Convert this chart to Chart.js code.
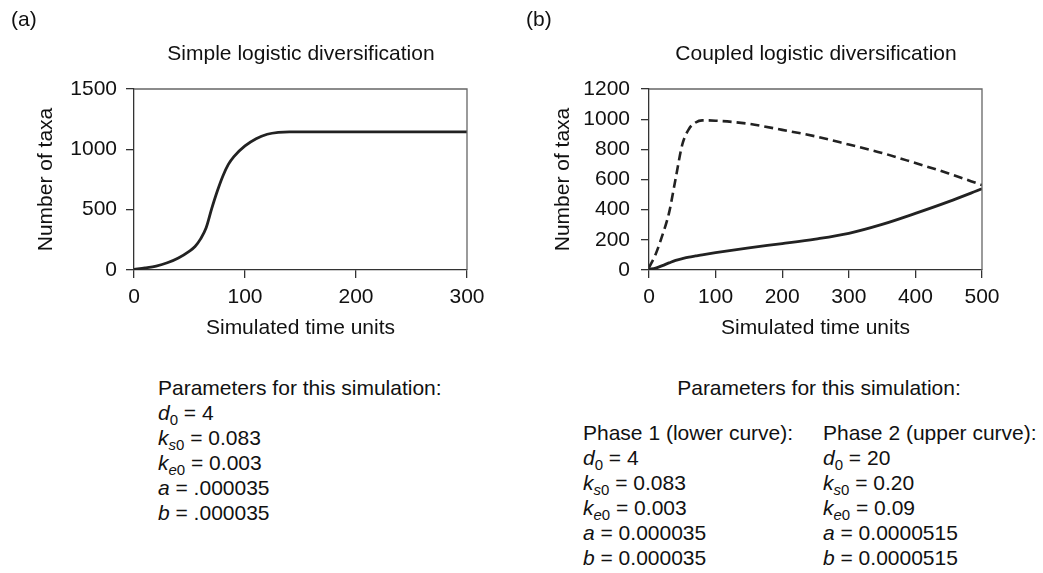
<!DOCTYPE html>
<html>
  <head>
    <title>Logistic diversification simulations</title>
    <script src="https://cdn.jsdelivr.net/npm/chart.js"></script>
    <style>
      body { margin: 0; background: #fff; font-family: "Liberation Sans", Arial, Helvetica, sans-serif; color: #111; }
      #page { position: relative; width: 1043px; height: 573px; overflow: hidden; }
      canvas { position: absolute; top: 0; }
      .txt { position: absolute; font-size: 21px; line-height: 25px; white-space: nowrap; }
      .mid { transform: translateX(-50%); }
      sub { font-size: 15px; vertical-align: -5px; line-height: 0; }
    </style>
  </head>
  <body>
    <div id="page">
      <canvas id="chart-a" width="520" height="350" style="left:0"></canvas>
      <canvas id="chart-b" width="523" height="350" style="left:520px"></canvas>

      <div class="txt" style="left:11px; top:6px">(a)</div>
      <div class="txt" style="left:526px; top:6px">(b)</div>
      <div class="txt mid" style="left:301px; top:40px">Simple logistic diversification</div>
      <div class="txt mid" style="left:816px; top:40px">Coupled logistic diversification</div>

      <div class="txt" style="left:158px; top:375px">
        Parameters for this simulation:<br>
        <i>d</i><sub>0</sub> = 4<br>
        <i>k</i><sub><i>s</i>0</sub> = 0.083<br>
        <i>k</i><sub><i>e</i>0</sub> = 0.003<br>
        <i>a</i> = .000035<br>
        <i>b</i> = .000035
      </div>

      <div class="txt mid" style="left:819px; top:375px">Parameters for this simulation:</div>
      <div class="txt" style="left:583px; top:420px">
        Phase 1 (lower curve):<br>
        <i>d</i><sub>0</sub> = 4<br>
        <i>k</i><sub><i>s</i>0</sub> = 0.083<br>
        <i>k</i><sub><i>e</i>0</sub> = 0.003<br>
        <i>a</i> = 0.000035<br>
        <i>b</i> = 0.000035
      </div>
      <div class="txt" style="left:823px; top:420px">
        Phase 2 (upper curve):<br>
        <i>d</i><sub>0</sub> = 20<br>
        <i>k</i><sub><i>s</i>0</sub> = 0.20<br>
        <i>k</i><sub><i>e</i>0</sub> = 0.09<br>
        <i>a</i> = 0.0000515<br>
        <i>b</i> = 0.0000515
      </div>
    </div>
    <script>
      // (a) simple logistic run
      const timeA = [0, 10, 20, 30, 40, 50, 55, 60, 65, 70, 75, 80, 85, 90, 100, 110, 120, 130, 140, 150, 200, 250, 300];
      const taxaA = [4, 17, 33, 60, 100, 157, 195, 258, 350, 508, 652, 777, 875, 940, 1028, 1088, 1125, 1141, 1145, 1145, 1145, 1145, 1145];

      // (b) coupled run: lower curve = phase 1, upper (dashed) = phase 2
      const timeB = [0, 10, 20, 30, 40, 50, 60, 70, 80, 100, 150, 200, 250, 300, 350, 400, 450, 500];
      const lowerB = [4, 13, 29, 47, 64, 75, 85, 93, 101, 115, 147, 175, 205, 243, 302, 375, 453, 538];
      const upperB = [15, 105, 229, 377, 606, 832, 935, 978, 992, 990, 969, 929, 886, 832, 776, 709, 640, 563];

      Chart.defaults.font.family = '"Liberation Sans", Arial, Helvetica, sans-serif';
      Chart.defaults.font.size = 21;
      Chart.defaults.color = "#111";

      const pts = (xs, ys) => xs.map((x, i) => ({ x: x, y: ys[i] }));

      // top and right edges of the box around the plot
      const frame = {
        id: "frame",
        afterDraw(chart) {
          const a = chart.chartArea, c = chart.ctx;
          c.save();
          c.strokeStyle = "#666";
          c.lineWidth = 1.3;
          c.beginPath();
          c.moveTo(a.left, a.top);
          c.lineTo(a.right, a.top);
          c.lineTo(a.right, a.bottom);
          c.stroke();
          c.restore();
        }
      };

      function scales(xMax, yMax, yStep, yWidth, yTitlePad, yLabelPad) {
        const grid = { drawOnChartArea: false, drawTicks: true, tickLength: 8, color: "#333", lineWidth: 1.3 };
        return {
          x: {
            type: "linear", min: 0, max: xMax,
            ticks: { stepSize: 100, padding: 7, callback: v => String(v) },
            grid: grid,
            border: { color: "#333", width: 1.3 },
            title: { display: true, text: "Simulated time units", padding: { top: 0, bottom: 9 } },
            afterFit: s => { s.height = 80; }
          },
          y: {
            min: 0, max: yMax,
            ticks: { stepSize: yStep, padding: yLabelPad, callback: v => String(v) },
            grid: grid,
            border: { color: "#333", width: 1.3 },
            title: { display: true, text: "Number of taxa", padding: { top: yTitlePad, bottom: 0 } },
            afterFit: s => { s.width = yWidth; }
          }
        };
      }

      new Chart(document.getElementById("chart-a"), {
        type: "line",
        data: {
          datasets: [{
            data: pts(timeA, taxaA),
            borderColor: "#222",
            borderWidth: 2.8,
            pointRadius: 0,
            cubicInterpolationMode: "monotone"
          }]
        },
        options: {
          responsive: false,
          animation: false,
          layout: { padding: { top: 89, right: 53, left: 0, bottom: 0 } },
          plugins: { legend: { display: false }, tooltip: { enabled: false } },
          scales: scales(300, 1500, 500, 134, 34, 9)
        },
        plugins: [frame]
      });

      new Chart(document.getElementById("chart-b"), {
        type: "line",
        data: {
          datasets: [{
            data: pts(timeB, upperB),
            borderColor: "#222",
            borderWidth: 2.6,
            borderDash: [9, 5],
            pointRadius: 0,
            cubicInterpolationMode: "monotone"
          }, {
            data: pts(timeB, lowerB),
            borderColor: "#222",
            borderWidth: 2.8,
            pointRadius: 0,
            cubicInterpolationMode: "monotone"
          }]
        },
        options: {
          responsive: false,
          animation: false,
          layout: { padding: { top: 89, right: 61, left: 0, bottom: 0 } },
          plugins: { legend: { display: false }, tooltip: { enabled: false } },
          scales: scales(500, 1200, 200, 129, 31, 11)
        },
        plugins: [frame]
      });
    </script>
  </body>
</html>
